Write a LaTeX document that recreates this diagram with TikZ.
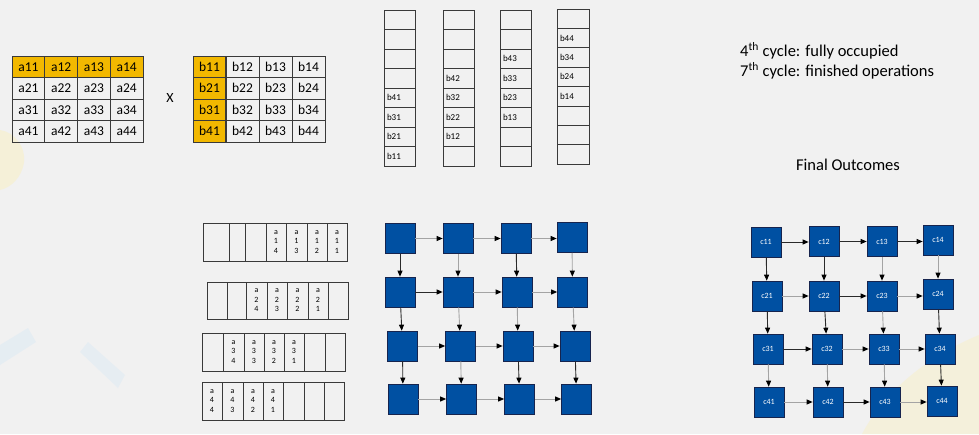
\documentclass[tikz,border=0pt]{standalone}
\usepackage{fontspec}
\setmainfont{Carlito}
\usetikzlibrary{arrows.meta}
\definecolor{bg}{HTML}{F1F1F1}
\definecolor{gold}{RGB}{242,184,0}
\definecolor{pe}{RGB}{0,80,162}
\definecolor{peb}{RGB}{22,36,78}
\definecolor{ln}{HTML}{3A3A3A}
\definecolor{garr}{HTML}{A4A4A4}
\definecolor{darr}{HTML}{2A2A2A}
\definecolor{tintY}{HTML}{F6F0D2}
\definecolor{tintB}{HTML}{E2ECF3}
\tikzset{
  mcell/.style={draw=ln, line width=0.8pt, minimum width=32.75pt, minimum height=21.5pt, inner sep=0pt, font=\fontsize{13.5}{14}\selectfont},
  ycell/.style={mcell, fill=gold},
  scell/.style={draw=ln, line width=0.8pt, minimum width=31pt, minimum height=19.5pt, text width=25pt, align=left, inner sep=3pt, font=\fontsize{9}{10}\selectfont},
  rcell/.style={draw=ln, line width=0.8pt, inner sep=0pt, align=center, font=\fontsize{8}{9.5}\selectfont},
  pebox/.style={draw=peb, line width=0.7pt, fill=pe, minimum size=30pt, inner sep=0pt, text=white, font=\fontsize{8}{8}\selectfont},
  harr/.style={draw=garr, line width=0.9pt, -{Triangle[length=6pt,width=5pt,color=black]}},
  varr/.style={draw=darr, line width=0.9pt, -{Triangle[length=6pt,width=5pt,color=black]}},
  hdarr/.style={harr, draw=darr},
  vgarr/.style={varr, draw=garr},
  txt/.style={font=\fontsize{16.5}{18}\selectfont, inner sep=0pt}
}
\begin{document}
\begin{tikzpicture}[x=1pt,y=-1pt]
\fill[bg] (0,0) rectangle (979,434);
\useasboundingbox (0,0) rectangle (979,434);
% faint background tints
\fill[tintY, opacity=0.8] (0,130) .. controls (15,132) and (26,148) .. (24,162) .. controls (22,178) and (10,188) .. (0,190) -- cycle;
\fill[tintB, opacity=0.8] (0,345) -- (28,328) -- (36,342) -- (0,365) -- cycle;
\fill[tintB, opacity=0.7] (80,352) -- (88,342) -- (125,375) -- (118,388) -- cycle;
\fill[tintY, opacity=0.7] (979,335) .. controls (930,355) and (885,390) .. (862,434) -- (979,434) -- cycle;

% Matrix A
\foreach \r [count=\i] in {1,2,3,4}{
  \foreach \c [count=\j] in {1,2,3,4}{
    \ifnum\i=1
      \node[ycell] (a\r\c) at ({12+32.75*(\j-0.5)},{56+21.5*(\i-0.5)}) {a\r\c};
    \else
      \node[mcell] (a\r\c) at ({12+32.75*(\j-0.5)},{56+21.5*(\i-0.5)}) {a\r\c};
    \fi
  }
}
\node[font=\fontsize{14}{14}\selectfont] (times) at (170,98) {X};
% Matrix B
\foreach \r [count=\i] in {1,2,3,4}{
  \foreach \c [count=\j] in {1,2,3,4}{
    \ifnum\j=1
      \node[ycell] (b\r\c) at ({193+33*(\j-0.5)},{56+21.5*(\i-0.5)}) {b\r\c};
    \else
      \node[mcell, minimum width=33pt] (b\r\c) at ({193+33*(\j-0.5)},{56+21.5*(\i-0.5)}) {b\r\c};
    \fi
  }
}

% Column stacks
\foreach \t [count=\k] in {{},{},{},{},b41,b31,b21,b11}{
  \node[scell] (s1\k) at (399.5,{10+19.5*(\k-0.5)}) {\t};
}
\foreach \t [count=\k] in {{},{},{},b42,b32,b22,b12,{}}{
  \node[scell] (s2\k) at (458.5,{10+19.5*(\k-0.5)}) {\t};
}
\foreach \t [count=\k] in {{},{},b43,b33,b23,b13,{},{}}{
  \node[scell] (s3\k) at (515.5,{10+19.5*(\k-0.5)}) {\t};
}
\foreach \t [count=\k] in {{},b44,b34,b24,b14,{},{},{}}{
  \node[scell, minimum width=32pt, text width=26pt] (s4\k) at (573,{9+19.4*(\k-0.5)}) {\t};
}

% Row arrays
\foreach \xa/\xb/\t [count=\k] in {203/229/{},229/245/{},245/266/{},266/286/{a\\1\\4},286/307/{a\\1\\3},307/327/{a\\1\\2},327/347/{a\\1\\1}}{
  \node[rcell, minimum width={(\xb-\xa)*1pt}, minimum height=38pt] (r1\k) at ({(\xa+\xb)/2},242) {\t};
}
\foreach \xa/\xb/\t [count=\k] in {207/227/{},227/246/{},246/267/{a\\2\\4},267/287/{a\\2\\3},287/308/{a\\2\\2},308/328/{a\\2\\1},328/348/{}}{
  \node[rcell, minimum width={(\xb-\xa)*1pt}, minimum height=37pt] (r2\k) at ({(\xa+\xb)/2},300.5) {\t};
}
\foreach \xa/\xb/\t [count=\k] in {202/223/{},223/244/{a\\3\\4},244/264/{a\\3\\3},264/284/{a\\3\\2},284/304/{a\\3\\1},304/325/{},325/345/{}}{
  \node[rcell, minimum width={(\xb-\xa)*1pt}, minimum height=38pt] (r3\k) at ({(\xa+\xb)/2},352) {\t};
}
\foreach \xa/\xb/\t [count=\k] in {202/222/{a\\4\\4},222/243/{a\\4\\3},243/263/{a\\4\\2},263/283/{a\\4\\1},283/304/{},304/324/{},324/344/{}}{
  \node[rcell, minimum width={(\xb-\xa)*1pt}, minimum height=38pt] (r4\k) at ({(\xa+\xb)/2},401) {\t};
}

% Middle PE grid
\node[pebox] (m11) at (400,238.5) {};
\node[pebox] (m12) at (458,238.5) {};
\node[pebox] (m13) at (516,238.5) {};
\node[pebox] (m14) at (572,237.5) {};
\node[pebox] (m21) at (400,292) {};
\node[pebox] (m22) at (458,292) {};
\node[pebox] (m23) at (517,292) {};
\node[pebox] (m24) at (572.5,292) {};
\node[pebox] (m31) at (402.5,346) {};
\node[pebox] (m32) at (460.5,346) {};
\node[pebox] (m33) at (518,346) {};
\node[pebox] (m34) at (575,346) {};
\node[pebox] (m41) at (403,399) {};
\node[pebox] (m42) at (461.5,399) {};
\node[pebox] (m43) at (519.5,399) {};
\node[pebox] (m44) at (576.5,399) {};
% horizontal arrows
\draw[harr] (m11.east) -- (m11.east -| m12.west);
\draw[harr] (m12.east) -- (m12.east -| m13.west);
\draw[harr] (m13.east) -- (m13.east -| m14.west);
\draw[hdarr] (m21.east) -- (m21.east -| m22.west);
\draw[harr] (m22.east) -- (m22.east -| m23.west);
\draw[harr] (m23.east) -- (m23.east -| m24.west);
\draw[harr] (m31.east) -- (m31.east -| m32.west);
\draw[harr] (m32.east) -- (m32.east -| m33.west);
\draw[harr] (m33.east) -- (m33.east -| m34.west);
\draw[harr] (m41.east) -- (m41.east -| m42.west);
\draw[harr] (m42.east) -- (m42.east -| m43.west);
\draw[harr] (m43.east) -- (m43.east -| m44.west);
% vertical arrows
\draw[varr] (m11) -- (m21);
\draw[vgarr] (m12) -- (m22);
\draw[varr] (m13) -- (m23);
\draw[vgarr] (m14) -- (m24);
\draw[varr] (m21) -- (m31);
\draw[vgarr] (m22) -- (m32);
\draw[vgarr] (m23) -- (m33);
\draw[vgarr] (m24) -- (m34);
\draw[varr] (m31) -- (m41);
\draw[vgarr] (m32) -- (m42);
\draw[varr] (m33) -- (m43);
\draw[varr] (m34) -- (m44);

% Text
\node[txt, anchor=west] (t1) at (740,51) {4\textsuperscript{th} cycle: fully occupied};
\node[txt, anchor=west] (t2) at (740,71) {7\textsuperscript{th} cycle: finished operations};
\node[txt] (t3) at (848,165) {Final Outcomes};

% Final outcome grid
\node[pebox] (c11) at (766,242) {c11};
\node[pebox] (c12) at (824,241.5) {c12};
\node[pebox] (c13) at (882,241.5) {c13};
\node[pebox] (c14) at (938,240) {c14};
\node[pebox] (c21) at (767,296) {c21};
\node[pebox] (c22) at (824,296) {c22};
\node[pebox] (c23) at (882,296) {c23};
\node[pebox] (c24) at (938,294) {c24};
\node[pebox] (c31) at (768,349) {c31};
\node[pebox] (c32) at (827,349) {c32};
\node[pebox] (c33) at (884,349) {c33};
\node[pebox] (c34) at (940,349) {c34};
\node[pebox] (c41) at (769,402) {c41};
\node[pebox] (c42) at (828,402) {c42};
\node[pebox] (c43) at (885,402) {c43};
\node[pebox] (c44) at (942,401) {c44};
\draw[hdarr] (c11.east) -- (c11.east -| c12.west);
\draw[hdarr] (c12.east) -- (c12.east -| c13.west);
\draw[hdarr] (c13.east) -- (c13.east -| c14.west);
\draw[harr] (c21.east) -- (c21.east -| c22.west);
\draw[hdarr] (c22.east) -- (c22.east -| c23.west);
\draw[harr] (c23.east) -- (c23.east -| c24.west);
\draw[hdarr] (c31.east) -- (c31.east -| c32.west);
\draw[harr] (c32.east) -- (c32.east -| c33.west);
\draw[harr] (c33.east) -- (c33.east -| c34.west);
\draw[harr] (c41.east) -- (c41.east -| c42.west);
\draw[hdarr] (c42.east) -- (c42.east -| c43.west);
\draw[harr] (c43.east) -- (c43.east -| c44.west);
\draw[varr] (c11) -- (c21);
\draw[varr] (c12) -- (c22);
\draw[vgarr] (c13) -- (c23);
\draw[vgarr] (c14) -- (c24);
\draw[varr] (c21) -- (c31);
\draw[varr] (c22) -- (c32);
\draw[vgarr] (c23) -- (c33);
\draw[varr] (c24) -- (c34);
\draw[vgarr] (c31) -- (c41);
\draw[vgarr] (c32) -- (c42);
\draw[vgarr] (c33) -- (c43);
\draw[varr] (c34) -- (c44);
\end{tikzpicture}
\end{document}
